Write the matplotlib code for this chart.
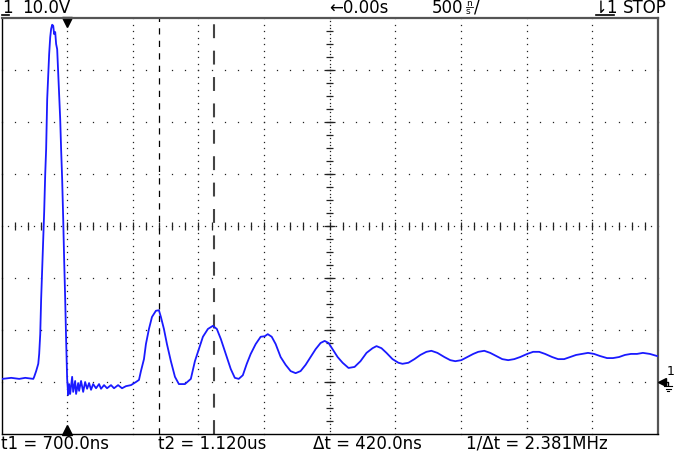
import numpy as np
import matplotlib
matplotlib.use('Agg')
import matplotlib.pyplot as plt
from matplotlib.lines import Line2D

# 波形数据：时间 (us)，电压 (V)
t_us = [-0.494, -0.426, -0.365, -0.319, -0.258, -0.251, -0.236, -0.220, -0.213, -0.205,
        -0.198, -0.190, -0.182, -0.175, -0.167, -0.160, -0.152, -0.144, -0.137, -0.129,
        -0.122, -0.114, -0.106, -0.099, -0.091, -0.084, -0.076, -0.068, -0.061, -0.053,
        -0.046, -0.038, -0.030, -0.023, -0.015, -0.008, 0.000, 0.008, 0.015, 0.023,
        0.038, 0.046, 0.061, 0.068, 0.084, 0.091, 0.106, 0.122, 0.137, 0.152,
        0.167, 0.182, 0.198, 0.220, 0.243, 0.258, 0.281, 0.304, 0.334, 0.357,
        0.388, 0.418, 0.448, 0.486, 0.524, 0.547, 0.562, 0.585, 0.600, 0.623,
        0.646, 0.676, 0.699, 0.714, 0.737, 0.760, 0.790, 0.821, 0.851, 0.897,
        0.942, 0.973, 1.003, 1.034, 1.072, 1.110, 1.140, 1.170, 1.208, 1.246,
        1.277, 1.307, 1.338, 1.368, 1.398, 1.436, 1.474, 1.505, 1.528, 1.558,
        1.588, 1.626, 1.664, 1.702, 1.740, 1.778, 1.816, 1.854, 1.892, 1.930,
        1.961, 1.991, 2.022, 2.060, 2.098, 2.143, 2.189, 2.234, 2.280, 2.326,
        2.356, 2.394, 2.432, 2.478, 2.523, 2.554, 2.599, 2.645, 2.690, 2.736,
        2.774, 2.820, 2.873, 2.918, 2.956, 3.002, 3.048, 3.093, 3.131, 3.177,
        3.222, 3.268, 3.314, 3.359, 3.405, 3.450, 3.504, 3.549, 3.595, 3.640,
        3.694, 3.739, 3.785, 3.830, 3.876, 3.922, 3.967, 4.013, 4.058, 4.112,
        4.157, 4.203, 4.248, 4.294, 4.340, 4.385, 4.438, 4.492]
volt = [0.6, 0.8, 0.6, 0.8, 0.6, 1.0, 2.1, 3.5, 5.4, 9.2,
        16.0, 21.7, 27.5, 32.7, 40.0, 44.8, 54.4, 59.2, 63.1, 66.3,
        67.9, 68.7, 68.5, 66.9, 67.3, 65.0, 64.0, 59.2, 55.4, 50.6,
        44.8, 39.0, 31.3, 23.7, 16.0, 8.3, 0.6, -2.5, -0.4, -2.3,
        1.0, -1.9, 0.2, -2.3, -0.2, -1.7, 0.2, -1.9, 0.0, -1.3,
        -0.2, -1.5, -0.4, -1.2, -0.4, -1.3, -0.6, -1.2, -0.6, -1.2,
        -0.6, -1.2, -0.8, -0.6, 0.0, 0.4, 2.1, 4.4, 7.3, 10.2,
        12.5, 13.7, 13.8, 12.5, 10.2, 7.3, 4.0, 1.0, -0.4, -0.4,
        0.6, 4.0, 6.3, 8.7, 10.2, 10.8, 10.2, 8.3, 5.4, 2.5,
        0.8, 0.6, 1.3, 3.5, 5.4, 7.3, 8.7, 8.8, 9.2, 8.7,
        7.3, 4.8, 3.3, 2.1, 1.7, 2.1, 3.3, 4.8, 6.3, 7.5,
        7.9, 7.5, 6.3, 4.8, 3.7, 2.7, 2.9, 4.0, 5.6, 6.5,
        6.9, 6.5, 5.6, 4.4, 3.7, 3.5, 3.7, 4.4, 5.2, 5.8,
        6.0, 5.6, 4.8, 4.2, 4.0, 4.2, 4.8, 5.4, 5.8, 6.0,
        5.6, 5.0, 4.4, 4.2, 4.4, 4.8, 5.4, 5.8, 5.8, 5.4,
        4.8, 4.4, 4.4, 4.8, 5.2, 5.4, 5.6, 5.4, 5.0, 4.6,
        4.6, 4.8, 5.2, 5.4, 5.4, 5.6, 5.4, 5.0]

# 光标位置 (us)
t1_us = 0.700
t2_us = 1.120

# 屏幕文字
top_texts = ['10.0V', '\u21900.00s', '500', '\u21c21', 'STOP']
bottom_texts = ['t1 = 700.0ns', 't2 = 1.120us', '\u0394t = 420.0ns', '1/\u0394t = 2.381MHz']

W, H = 674, 452


def fx(px):
    return px / W


def fy(py):
    return 1 - py / H


def draw_grid(ax):
    """示波器网格：点线 + 中心刻度"""
    dot = dict(ls='none', marker='s', ms=0.9, mew=0, color='#222222', clip_on=False)
    for k in range(1, 10):
        x = -0.5 + 0.5 * k
        if k == 5:
            continue
        ys = np.arange(-10, 70.01, 1.25)
        ax.plot(np.full_like(ys, x), ys, **dot)
    for k in range(1, 8):
        y = -10 + 10 * k
        if k == 4:
            continue
        xs = np.arange(-0.5, 4.501, 0.1)
        ax.plot(xs, np.full_like(xs, y), **dot)

    # 中心水平轴
    xs = np.arange(-0.5, 4.501, 0.05)
    ax.plot(xs, np.full_like(xs, 30), **dot)
    ticks = np.arange(-0.4, 4.45, 0.1)
    ax.vlines(ticks, 29.3, 30.7, color='#222222', lw=0.9)
    # 中心竖直轴
    ys = np.arange(-10, 70.01, 0.625)
    ax.plot(np.full_like(ys, 2.0), ys, **dot)
    ticks = np.arange(-7.5, 70, 2.5)
    ax.hlines(ticks, 1.975, 2.025, color='#222222', lw=0.9)
    ax.hlines(np.arange(0, 61, 10), 1.96, 2.04, color='#222222', lw=0.9)


def draw_texts(fig):
    """上下两行文字"""
    kw = dict(fontsize=12, family='DejaVu Sans', color='black', va='center')
    # 通道号 1（带下划线）
    fig.text(fx(2), fy(8), '1', **kw)
    fig.add_artist(Line2D([fx(2), fx(9)], [fy(15.5), fy(15.5)], color='black', lw=1.2))
    fig.text(fx(22), fy(8), top_texts[0], **kw)
    fig.text(fx(329), fy(8), top_texts[1], **kw)
    fig.text(fx(432), fy(8), top_texts[2], **kw)
    fig.text(fx(466), fy(4), 'n', fontsize=6.5, color='black', va='center')
    fig.text(fx(466), fy(12), 's', fontsize=6.5, color='black', va='center')
    fig.add_artist(Line2D([fx(466), fx(473)], [fy(8), fy(8)], color='black', lw=0.6))
    fig.text(fx(474), fy(8), '/', **kw)
    # 触发标志
    fig.text(fx(594), fy(8), top_texts[3], **kw)
    fig.add_artist(Line2D([fx(596), fx(614)], [fy(15.5), fy(15.5)], color='black', lw=1.2))
    fig.text(fx(623), fy(8), top_texts[4], **kw)

    xs = [1, 158, 313, 466]
    for x, s in zip(xs, bottom_texts):
        fig.text(fx(x), fy(444), s, **kw)


def main():
    plt.rcParams['lines.scale_dashes'] = False
    fig = plt.figure(figsize=(W / 100, H / 100), dpi=100)
    ax = fig.add_axes([fx(1.5), fy(435), (658 - 1.5) / W, 416 / H])
    ax.set_xlim(-0.5, 4.5)
    ax.set_ylim(-10, 70)
    ax.set_xticks([])
    ax.set_yticks([])
    for s in ['left', 'bottom']:
        ax.spines[s].set_color('black')
        ax.spines[s].set_linewidth(1.0)
    for s in ['top', 'right']:
        ax.spines[s].set_color('#555555')
        ax.spines[s].set_linewidth(1.6)

    draw_grid(ax)

    # 光标
    ax.axvline(t1_us, color='black', lw=0.9, dashes=(4.5, 4.5))
    ax.axvline(t2_us, color='#444444', lw=1.5, dashes=(10, 9))

    # 波形
    ax.plot(t_us, volt, color='#1a1aff', lw=1.3, zorder=5)

    # 触发位置标记
    tr = ax.get_xaxis_transform()
    ax.plot([0], [0.99], marker='v', ms=7, color='black', transform=tr, clip_on=False)
    ax.plot([0], [0.01], marker='^', ms=7, color='black', transform=tr, clip_on=False)

    # 地电平标记
    fig.add_artist(Line2D([fx(662)], [fy(383)], marker='<', ms=6, color='black'))
    fig.add_artist(Line2D([fx(664), fx(668), fx(668)], [fy(383), fy(383), fy(386)], color='black', lw=1))
    for w, y in [(4, 387), (2.5, 389.5), (1, 392)]:
        fig.add_artist(Line2D([fx(668 - w), fx(668 + w)], [fy(y), fy(y)], color='black', lw=0.8))
    fig.text(fx(667), fy(372), '1', fontsize=9, color='black', va='center')

    draw_texts(fig)

    fig.savefig('out.png', dpi=100, facecolor='white')


if __name__ == '__main__':
    main()
